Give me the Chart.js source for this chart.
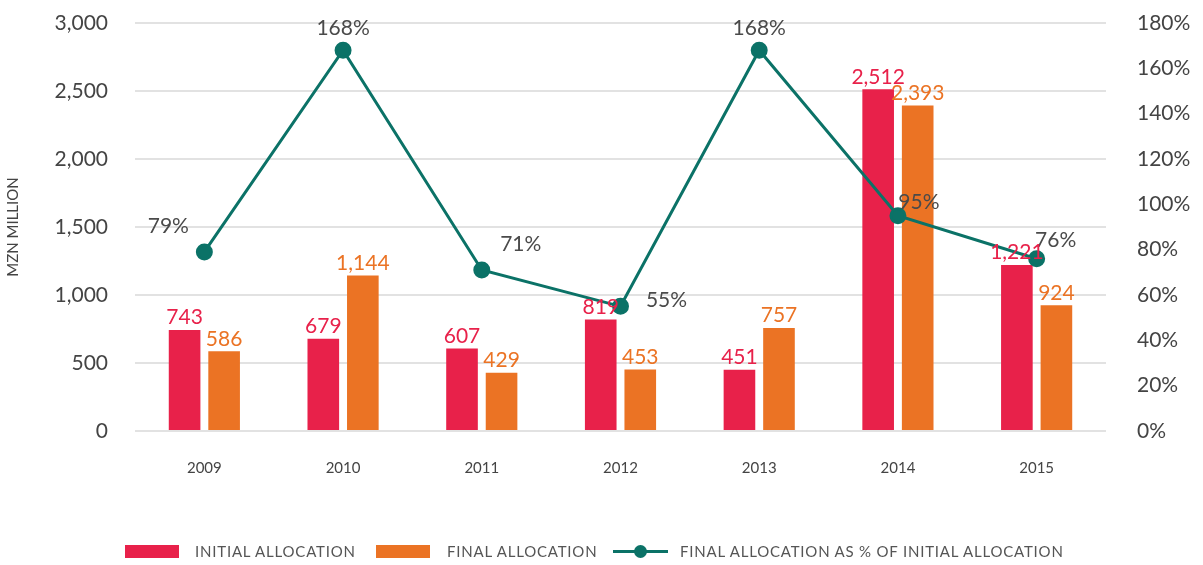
<!DOCTYPE html>
<html>
<head>
<meta charset="utf-8">
<script src="https://cdn.jsdelivr.net/npm/chart.js@4/dist/chart.umd.min.js"></script>
<style>
  html, body { margin: 0; padding: 0; background: #fff; }
  #wrap { position: relative; width: 1203px; height: 565px; font-family: Lato, "Open Sans", sans-serif; }
  #chart { position: absolute; left: 0; top: 0; }
  .lg { position: absolute; top: 543px; height: 16px; font-size: 15px; line-height: 16px; color: #555; white-space: nowrap; letter-spacing: 0.8px; }
  .box { position: absolute; top: 545px; width: 54px; height: 13px; }
  .ln { position: absolute; top: 550px; width: 55px; height: 3px; }
  .dot { position: absolute; top: 545px; width: 13px; height: 13px; border-radius: 50%; }
</style>
</head>
<body>
<div id="wrap">
  <canvas id="chart" width="1203" height="565"></canvas>
  <div class="box" style="left:125px;background:#E8214A"></div>
  <div class="lg" style="left:195px">INITIAL ALLOCATION</div>
  <div class="box" style="left:376px;background:#EB7324"></div>
  <div class="lg" style="left:447px">FINAL ALLOCATION</div>
  <div class="ln" style="left:613px;background:#0B7267"></div>
  <div class="dot" style="left:634px;background:#0B7267"></div>
  <div class="lg" style="left:680px">FINAL ALLOCATION AS % OF INITIAL ALLOCATION</div>
</div>
<script>
// values
const years = ["2009", "2010", "2011", "2012", "2013", "2014", "2015"];
const initialAllocation = [743, 679, 607, 819, 451, 2512, 1221];
const finalAllocation = [586, 1144, 429, 453, 757, 2393, 924];
const finalPctOfInitial = [79, 168, 71, 55, 168, 95, 76];

const RED = "#E8214A";
const ORANGE = "#EB7324";
const TEAL = "#0B7267";
const TEXT = "#444";
const FONT = "Lato, 'Open Sans', sans-serif";

// where each % label sits relative to its point (px)
const pctLabelOffsets = [[-36, -26], [0, -22], [39, -26], [46, -6], [0, -22], [21, -13], [19, -18]];

const fmt = (v) => v.toLocaleString("en-US");

const valueLabels = {
  id: "valueLabels",
  afterDatasetsDraw(chart) {
    const ctx = chart.ctx;
    ctx.save();
    ctx.font = "21px " + FONT;
    ctx.textAlign = "center";
    chart.data.datasets.forEach((ds, i) => {
      const meta = chart.getDatasetMeta(i);
      meta.data.forEach((el, j) => {
        const v = ds.data[j];
        if (ds.type === "line") {
          const [dx, dy] = pctLabelOffsets[j];
          ctx.fillStyle = "#4a4a4a";
          ctx.textBaseline = "middle";
          ctx.fillText(v + "%", el.x + dx, el.y + dy);
        } else {
          ctx.fillStyle = ds.backgroundColor;
          ctx.textBaseline = "bottom";
          ctx.fillText(fmt(v), el.x, el.y - 2);
        }
      });
    });
    ctx.restore();
  }
};

// fixed axis widths, and no extra label padding so the plot spans 23..430
const fixY = (w) => (a) => { a.width = w; a.paddingTop = 0; a.paddingBottom = 0; };

new Chart(document.getElementById("chart"), {
  data: {
    labels: years,
    datasets: [
      { type: "line", label: "Final allocation as % of initial allocation", data: finalPctOfInitial, yAxisID: "y1",
        borderColor: TEAL, backgroundColor: TEAL, borderWidth: 3, pointRadius: 7, pointHoverRadius: 7, tension: 0, order: 0 },
      { type: "bar", label: "Initial allocation", data: initialAllocation, yAxisID: "y",
        backgroundColor: RED, barPercentage: 0.8, categoryPercentage: 0.57, order: 1 },
      { type: "bar", label: "Final allocation", data: finalAllocation, yAxisID: "y",
        backgroundColor: ORANGE, barPercentage: 0.8, categoryPercentage: 0.57, order: 1 }
    ]
  },
  options: {
    responsive: false,
    animation: false,
    layout: { padding: { top: 23, bottom: 60 } },
    plugins: { legend: { display: false }, tooltip: { enabled: false } },
    scales: {
      x: {
        grid: { display: false, drawTicks: false },
        border: { display: false },
        ticks: { font: { family: FONT, size: 15 }, color: TEXT, padding: 28 }
      },
      y: {
        position: "left",
        min: 0, max: 3000,
        ticks: { stepSize: 500, font: { family: FONT, size: 21 }, color: TEXT, padding: 27,
          callback: (v) => fmt(v) },
        grid: { color: "#e2e2e2", lineWidth: 2, drawTicks: false },
        border: { display: false },
        title: { display: true, text: "MZN MILLION", font: { family: FONT, size: 15 }, color: TEXT, padding: 4 },
        afterFit: fixY(135)
      },
      y1: {
        position: "right",
        min: 0, max: 180,
        ticks: { stepSize: 20, font: { family: FONT, size: 21 }, color: TEXT, padding: 31,
          callback: (v) => v + "%" },
        grid: { display: false, drawTicks: false },
        border: { display: false },
        afterFit: fixY(97)
      }
    }
  },
  plugins: [valueLabels]
});
</script>
</body>
</html>
